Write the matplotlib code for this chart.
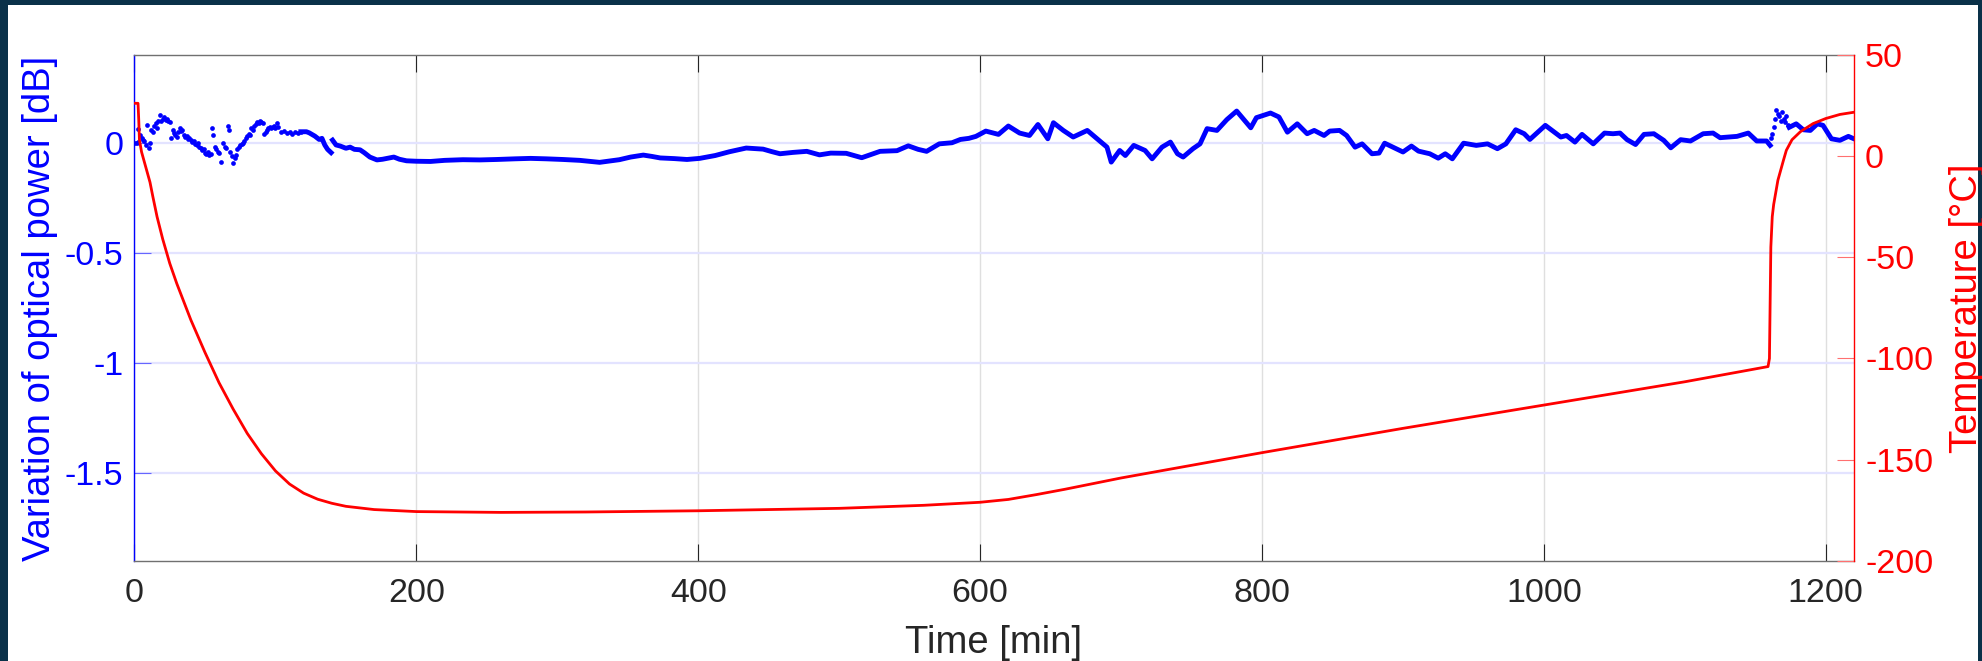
"""Optical power variation and temperature over a thermal cycle."""

import matplotlib

matplotlib.use("Agg", force=True)
import matplotlib.pyplot as plt
import numpy as np
from matplotlib.patches import Rectangle

# ---- data ----
# early scattered samples of optical power variation [dB]
early_t = [0.5, 1.5, 2.5, 2.7, 4, 5, 6, 7, 8, 9, 10, 11, 12, 13, 14, 15, 16, 17, 18, 19,
           20, 21, 22, 23, 24, 25, 26, 27, 28, 29, 30, 31, 32, 33, 34, 35, 36, 37, 38, 39,
           40, 41, 42, 43, 44, 45, 46, 47, 48, 49, 50, 51, 52, 53, 54, 55, 56, 57, 58, 59,
           60, 61.5, 63, 64, 65, 66, 67, 68, 69, 70, 71, 72, 73, 74, 75, 76, 77, 78, 79, 80,
           81, 82, 83, 84, 85, 86, 87, 88, 89, 90, 91, 92, 93, 94, 95, 96, 97, 98, 99, 100,
           101, 102, 104, 106, 108, 110, 112, 114, 116, 118]
early_v = [0.0, 0.0, 0.002, 0.063, 0.035, 0.02, 0.013, 0.01, -0.01, 0.08, -0.026, 0.0, 0.057,
           0.05, 0.075, 0.09, 0.065, 0.1, 0.126, 0.1, 0.11, 0.115, 0.105, 0.11, 0.1, 0.095,
           0.02, 0.057, 0.045, 0.035, 0.027, 0.05, 0.065, 0.055, 0.06, 0.035, 0.025, 0.03,
           0.015, 0.02, 0.012, 0.005, 0.01, -0.005, -0.01, 0.0, -0.018, -0.026, -0.035, -0.03,
           -0.045, -0.05, -0.04, -0.056, -0.05, 0.065, 0.035, -0.018, -0.03, -0.04, -0.048,
           -0.086, 0.0, -0.02, -0.026, 0.076, 0.057, -0.04, -0.06, -0.09, -0.07, -0.056, -0.03,
           -0.018, -0.01, -0.005, 0.0, 0.01, 0.02, 0.03, 0.042, 0.035, 0.065, 0.06, 0.075,
           0.085, 0.095, 0.09, 0.1, 0.095, 0.09, 0.042, 0.05, 0.06, 0.065, 0.07, 0.065, 0.07,
           0.075, 0.068, 0.088, 0.07, 0.05, 0.055, 0.045, 0.05, 0.04, 0.05, 0.045, 0.05]

# dense part of optical power variation [dB] (nan = break in the record)
power_t = [118, 122, 124, 128, 131, 133, 135, 137, 139.5, 140, 140.5, 143, 146, 150, 153, 156,
           160, 163, 167, 172, 176, 180, 184, 188, 193, 200, 210, 220, 233, 245, 257, 270, 281,
           292, 304, 316, 330, 344, 352, 361, 367, 373, 383, 392, 401, 412, 422, 434, 446, 452,
           458, 467, 477, 486, 494, 505, 516, 529, 541, 549, 556, 562, 571, 580, 586, 592, 597,
           604, 613, 620, 628, 635, 641, 648, 652, 659, 666, 676, 683, 690, 693, 699, 703, 709,
           717, 722, 729, 735, 740, 744, 751, 756, 761, 768, 775, 782, 792, 796, 806, 812, 818,
           825, 832, 837, 844, 848, 855, 860, 866, 871, 878, 883, 887, 900, 906, 911, 919, 925,
           930, 935, 943, 952, 960, 967, 973, 980, 986, 990, 1001, 1012, 1016, 1022, 1027, 1035,
           1043, 1049, 1054, 1059, 1065, 1071, 1078, 1085, 1090, 1097, 1104, 1113, 1120, 1125,
           1137, 1145, 1151, 1158, 1160.5]
power_v = [0.05, 0.05, 0.045, 0.03, 0.015, 0.02, -0.01, -0.03, -0.045, np.nan, 0.012, -0.01,
           -0.015, -0.025, -0.02, -0.03, -0.032, -0.045, -0.065, -0.078, -0.075, -0.07, -0.065,
           -0.075, -0.082, -0.084, -0.085, -0.08, -0.077, -0.078, -0.076, -0.073, -0.071, -0.073,
           -0.076, -0.08, -0.089, -0.077, -0.065, -0.056, -0.062, -0.069, -0.072, -0.076, -0.071,
           -0.058, -0.041, -0.024, -0.029, -0.04, -0.05, -0.044, -0.039, -0.055, -0.047, -0.048,
           -0.068, -0.039, -0.036, -0.014, -0.03, -0.039, -0.005, 0.0, 0.015, 0.02, 0.029, 0.053,
           0.038, 0.076, 0.044, 0.033, 0.083, 0.018, 0.091, 0.056, 0.026, 0.056, 0.018, -0.02,
           -0.088, -0.035, -0.058, -0.012, -0.035, -0.073, -0.02, 0.003, -0.05, -0.065, -0.027,
           -0.005, 0.064, 0.056, 0.105, 0.144, 0.068, 0.114, 0.135, 0.117, 0.048, 0.086, 0.041,
           0.056, 0.033, 0.053, 0.056, 0.033, -0.02, -0.005, -0.05, -0.047, -0.002, -0.042,
           -0.015, -0.038, -0.05, -0.07, -0.05, -0.073, -0.002, -0.012, -0.005, -0.027, -0.005,
           0.059, 0.041, 0.015, 0.079, 0.026, 0.033, 0.003, 0.038, -0.005, 0.044, 0.041, 0.044,
           0.014, -0.008, 0.038, 0.041, 0.011, -0.023, 0.014, 0.008, 0.041, 0.044, 0.023, 0.029,
           0.044, 0.008, 0.008, -0.012]

# scattered samples during the fast warm-up
late_t = [1161, 1162, 1163, 1164, 1165, 1166, 1167, 1168, 1169, 1170, 1171, 1172, 1173]
late_v = [0.02, 0.04, 0.07, 0.11, 0.147, 0.13, 0.12, 0.1, 0.14, 0.11, 0.095, 0.12, 0.08]

# last dense stretch
end_t = [1174, 1179, 1184, 1189, 1194, 1198, 1204, 1210, 1216, 1221]
end_v = [0.07, 0.086, 0.059, 0.056, 0.086, 0.079, 0.018, 0.011, 0.029, 0.015]

# temperature [degC]
temp_t = [0, 2.5, 3, 3.5, 5, 7, 9, 11, 13, 16, 20, 25, 30, 40, 50, 60, 70, 80, 90, 100, 110,
          120, 130, 140, 150, 170, 200, 260, 320, 400, 500, 560, 600, 620, 640, 660, 700, 800,
          900, 1000, 1100, 1159, 1160, 1161, 1162, 1163, 1166, 1170, 1172, 1176, 1182, 1191,
          1200, 1210, 1221]
temp_v = [26, 26, 18, 8, 2, -3, -8, -13, -20, -30, -41, -53, -63, -81, -97, -112, -125, -137,
          -147, -155.5, -162, -166.5, -169.5, -171.5, -173, -174.6, -175.6, -176, -175.8,
          -175.2, -174, -172.5, -171, -169.6, -167.2, -164.6, -159, -146.5, -134.5, -123,
          -111.5, -104, -100, -45, -30, -24, -12, -2, 2.8, 8, 12, 16, 18.5, 20.5, 21.7]

x_ticks = [0, 200, 400, 600, 800, 1000, 1200]
left_ticks = [0, -0.5, -1, -1.5]
left_labels = ["0", "-0.5", "-1", "-1.5"]
right_ticks = [-200, -150, -100, -50, 0, 50]

BLUE = "#0000FF"
RED = "#FF0000"
DARK = "#262626"
W, H = 1983, 661

plt.rcParams["font.family"] = ["Liberation Sans", "DejaVu Sans"]
plt.rcParams["axes.unicode_minus"] = False

fig = plt.figure(figsize=(W / 100, H / 100), dpi=100)
fig.patch.set_facecolor("#0A3149")
fig.patches.append(Rectangle((8 / W, 0), (W - 13) / W, (H - 5) / H, transform=fig.transFigure,
                             facecolor="white", edgecolor="none", zorder=-5))

ax = fig.add_axes([134.5 / W, 100 / H, 1719.5 / W, 506.3 / H])
ax.set_facecolor("white")
ax.set_xlim(0, 1220)
ax.set_ylim(-1.9, 0.4)

# grid: vertical grey, horizontal bluish (MATLAB yyaxis look)
for xt in x_ticks:
    ax.axvline(xt, color="#DFDFDF", lw=1.0, zorder=0)
for yt in left_ticks:
    ax.axhline(yt, color="#E3E3FF", lw=1.6, zorder=0)

ax.set_xticks(x_ticks)
ax.set_yticks(left_ticks)
ax.set_yticklabels(left_labels)
ax.tick_params(axis="x", direction="in", length=12.5, width=0.8, colors=DARK,
               labelsize=24.5, pad=12, top=True)
ax.tick_params(axis="y", direction="in", length=12.5, width=0.8, color="#6666FF",
               labelcolor=BLUE, labelsize=24.5, pad=8)
ax.spines["left"].set_color(BLUE)
ax.spines["top"].set_color("#707070")
ax.spines["bottom"].set_color("#707070")
ax.spines["right"].set_visible(False)
for s in ax.spines.values():
    s.set_linewidth(1.0)

ax2 = ax.twinx()
ax2.set_ylim(-200, 50)
ax2.set_yticks(right_ticks)
ax2.tick_params(axis="y", direction="in", length=12.5, width=0.8, color="#FF7070",
                labelcolor=RED, labelsize=24.5, pad=8)
ax2.spines["right"].set_color(RED)
ax2.spines["right"].set_linewidth(1.0)
for name in ("left", "top", "bottom"):
    ax2.spines[name].set_visible(False)

# blue curves on the left axis
ax.plot(early_t, early_v, linestyle="none", marker="o", markersize=3.4, color=BLUE,
        markeredgewidth=0, zorder=3)
ax.plot(power_t, power_v, color=BLUE, lw=3.5, zorder=3, solid_joinstyle="round")
ax.plot(late_t, late_v, linestyle="none", marker="o", markersize=3.4, color=BLUE,
        markeredgewidth=0, zorder=3)
ax.plot(end_t, end_v, color=BLUE, lw=3.5, zorder=3)

# red temperature on the right axis
ax2.plot(temp_t, temp_v, color=RED, lw=2.0, zorder=4)

fig.text(40 / W, 1 - 308 / H, "Variation of optical power [dB]", rotation=90,
         ha="center", va="center", color=BLUE, fontsize=27.5)
fig.text(1967 / W, 1 - 308 / H, "Temperature [°C]", rotation=90,
         ha="center", va="center", color=RED, fontsize=27.5)
fig.text(994 / W, 1 - 643 / H, "Time [min]", ha="center", va="center", color=DARK,
         fontsize=27.5)

fig.savefig("out.png", dpi=100)
